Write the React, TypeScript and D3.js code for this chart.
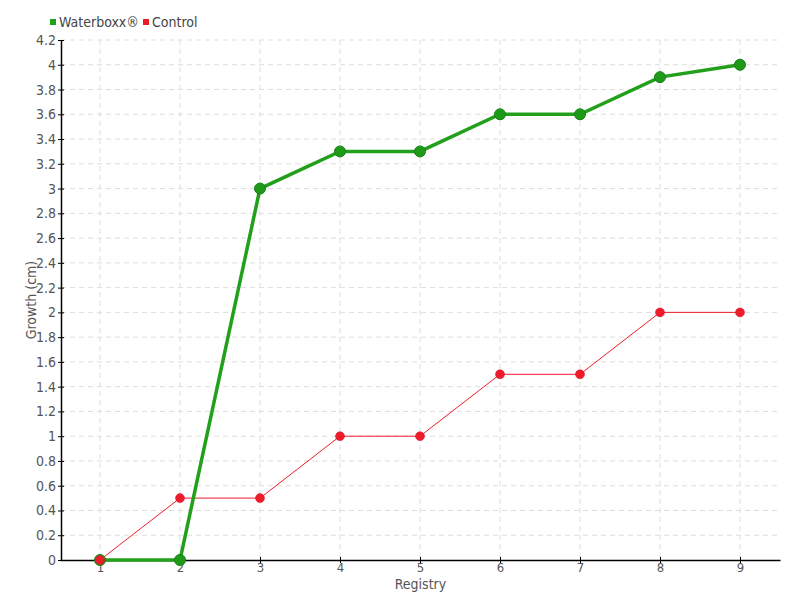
import React, { useEffect, useRef } from "react";
import * as d3 from "d3";

const registries = [1, 2, 3, 4, 5, 6, 7, 8, 9];
const waterboxx = [0, 0, 3, 3.3, 3.3, 3.6, 3.6, 3.9, 4];
const control = [0, 0.5, 0.5, 1, 1, 1.5, 1.5, 2, 2];
const yTicks = [0, 0.2, 0.4, 0.6, 0.8, 1, 1.2, 1.4, 1.6, 1.8, 2, 2.2, 2.4, 2.6, 2.8, 3, 3.2, 3.4, 3.6, 3.8, 4, 4.2];
const seriesNames = ["Waterboxx®", "Control"];
const seriesColors = ["#22a01c", "#ee1c2a"];

const FONT = "'DejaVu Sans Condensed', 'Liberation Sans Narrow', 'DejaVu Sans', sans-serif";

export default function App() {
  const ref = useRef<SVGSVGElement>(null);
  useEffect(() => {
    const svg = d3.select(ref.current);
    svg.selectAll("*").remove();
    const left = 61, right = 780, top = 40, bottom = 560;
    const x = d3.scaleLinear().domain([0.5, 9.5]).range([left - 1, right]);
    const y = d3.scaleLinear().domain([0, 4.2]).range([bottom, top]);

    const g = svg.append("g");
    // grid
    g.selectAll(".hg").data(yTicks.slice(1)).enter().append("line")
      .attr("x1", left).attr("x2", right)
      .attr("y1", (d) => y(d)).attr("y2", (d) => y(d))
      .attr("stroke", "#dddddd").attr("stroke-dasharray", "5,4").attr("stroke-width", 1);
    g.selectAll(".vg").data(registries).enter().append("line")
      .attr("x1", (d) => x(d)).attr("x2", (d) => x(d))
      .attr("y1", top).attr("y2", bottom)
      .attr("stroke", "#dddddd").attr("stroke-dasharray", "5,4").attr("stroke-width", 1);

    // axes
    const yAxis = d3.axisLeft(y).tickValues(yTicks).tickSize(0).tickPadding(5).tickFormat((d) => String(+d.valueOf().toFixed(1)));
    const ya = g.append("g").attr("transform", `translate(${left},0)`).call(yAxis);
    ya.select(".domain").attr("stroke", "#000").attr("stroke-width", 1.5);
    ya.selectAll(".tick").append("line").attr("x1", -3).attr("x2", 3).attr("stroke", "#000");
    ya.selectAll("text").attr("font-family", FONT).attr("font-size", 14).attr("fill", "#555");

    const xAxis = d3.axisBottom(x).tickValues(registries).tickSize(0).tickPadding(3).tickFormat(d3.format("d"));
    const xa = g.append("g").attr("transform", `translate(0,${bottom})`).call(xAxis);
    xa.select(".domain").attr("stroke", "#000").attr("stroke-width", 1.5);
    xa.selectAll(".tick").append("line").attr("y1", -3).attr("y2", 3).attr("stroke", "#000");
    xa.selectAll("text").attr("font-family", FONT).attr("font-size", 13).attr("fill", "#555");

    // axis titles
    svg.append("text").attr("x", (left + right) / 2).attr("y", 589).attr("text-anchor", "middle")
      .attr("font-family", FONT).attr("font-size", 14).attr("fill", "#555").text("Registry");
    svg.append("text").attr("transform", `translate(36,${(top + bottom) / 2}) rotate(-90)`).attr("text-anchor", "middle")
      .attr("font-family", FONT).attr("font-size", 14).attr("fill", "#555").text("Growth (cm)");

    const line = d3.line<number>().x((_, i) => x(registries[i])).y((d) => y(d));

    // control
    svg.append("path").datum(control).attr("d", line).attr("fill", "none")
      .attr("stroke", seriesColors[1]).attr("stroke-width", 1);
    // waterboxx
    svg.append("path").datum(waterboxx).attr("d", line).attr("fill", "none")
      .attr("stroke", seriesColors[0]).attr("stroke-width", 3.5);
    svg.selectAll(".wd").data(waterboxx).enter().append("circle")
      .attr("cx", (_, i) => x(registries[i])).attr("cy", (d) => y(d)).attr("r", 5.5)
      .attr("fill", "#1f9a18").attr("stroke", "#17801a").attr("stroke-width", 1);
    svg.selectAll(".cd").data(control).enter().append("circle")
      .attr("cx", (_, i) => x(registries[i])).attr("cy", (d) => y(d)).attr("r", 4.5)
      .attr("fill", seriesColors[1]).attr("stroke", "#d8102a").attr("stroke-width", 0.5);

    // legend
    const legendX = [50, 143];
    seriesNames.forEach((name, i) => {
      svg.append("rect").attr("x", legendX[i]).attr("y", 19).attr("width", 6).attr("height", 6).attr("fill", seriesColors[i]);
      svg.append("text").attr("x", legendX[i] + 9).attr("y", 27).attr("font-family", FONT)
        .attr("font-size", 14).attr("fill", "#444").text(name);
    });
  }, []);
  return <svg ref={ref} width={800} height={600} style={{ position: "absolute", left: 0, top: 0 }} />;
}
